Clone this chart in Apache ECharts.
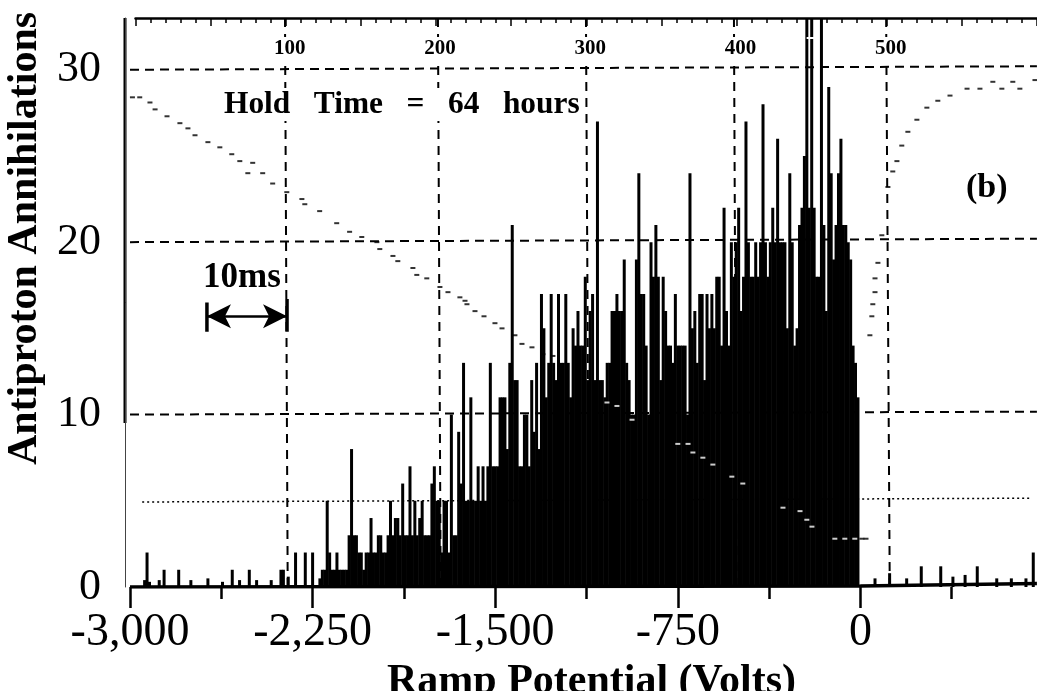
<!DOCTYPE html>
<html><head><meta charset="utf-8">
<style>html,body{margin:0;padding:0;background:#fff}#c{width:1037px;height:691px}</style>
<script src="https://cdn.jsdelivr.net/npm/echarts@6/dist/echarts.min.js"></script>
</head><body><div id="c"></div>
<script>
// counts per 10 V bin, starting at -3000 V
const counts = [
0,0,0,0,0,0,0.4,2,0.3,0,
0,0,0.4,0,1,0,0,0,0,0,
1,0,0,0,0,0.4,0,0,0,0,
0,0,0.5,0,0,0,0,0,0.3,0,
0,0,1,0,0,0.4,0,0,0,1,
0,0,0.4,0,0,0,0,0,0.4,0,
0,0,1,1,0,0.6,0,0,2,0,
0,0,2,0,0,2,0,0,0.5,1,
1,5,2,1,1,2,1,1,1,1,
3,8,3,3,2,2,1,2,2,4,
2,2,3,3,2,2,3,5,3,4,
4,3,6,3,3,7,3,5,3,4,
5,3,3,3,6,7,5,5,2,5,
5,2,10,3,3,9,6,13,5,5,
11,5,5,7,5,7,5,7,13,7,
7,7,11,11,11,8,13,21,12,12,
7,7,10,10,7,12,9,13,8,17,
15,11,13,17,13,12,17,13,13,17,
13,11,15,14,16,14,14,18,12,16,
17,12,27,12,12,11,13,13,16,16,
17,16,16,19,13,12,10,10,19,24,
17,17,14,10,20,18,21,18,12,18,
16,14,14,13,17,14,14,14,14,10,
24,15,16,13,17,17,12,17,15,17,
15,18,18,14,22,16,14,20,18,20,
22,16,18,27,20,18,18,20,18,20,
28,20,18,20,22,20,26,20,20,20,
15,24,20,14,15,21,22,25,33,22,
33,22,18,18,33,21,16,29,24,19,
21,24,26,21,21,20,19,14,13,11
];
// counts per 10 V bin above 0 V
const countsAboveZero = [
0,0,0,0,0,0,0.5,0,0,0,0,0,0.8,0,0,0,0,0,0,0.5,
0,0,0,0,0,1.2,0,0,0,0,0,0,0,1.2,0,0,0,0,0.6,0,
0,0,0,0.7,0,0,0,0,1.2,0,0,0,0,0,0,0,0.5,0,0,0,
0,0,0.5,0,0,0,0,0,0.5,0,0,2
];
const binStart = -3000, binStep = 10;
// ramp trace [volts, count-scale]
const rampFalling = [[-2990,28.4],[-2960,28.4],[-2918,28.1],[-2897,27.7],[-2848,27.3],[-2795,26.9],[-2762,26.6],[-2733,26.2],[-2680,25.8],[-2631,25.5],[-2582,25.1],[-2549,24.7],[-2496,24.6],[-2516,24.0],[-2455,24.0],[-2414,23.4],[-2356,22.9],[-2294,22.5],[-2282,22.2],[-2221,21.8],[-2151,21.1],[-2098,20.6],[-2048,20.3],[-1986,20.0],[-1974,19.6],[-1920,19.2],[-1900,18.9],[-1838,18.5],[-1822,18.1],[-1781,17.9],[-1727,17.4],[-1694,17.1],[-1645,16.8],[-1624,16.6],[-1616,16.4],[-1583,16.0],[-1546,15.7],[-1501,15.3],[-1472,15.0],[-1419,14.6],[-1390,14.1],[-1349,13.9],[-1304,13.5],[-1263,13.4],[6,2.8],[23,2.8]];
const rampHidden = [[-1041,10.7],[-1000,10.5],[-938,9.7],[-750,8.3],[-708,8.3],[-688,7.8],[-647,7.5],[-606,7.1],[-528,6.4],[-483,6.0],[-318,4.6],[-248,4.4],[-220,3.9],[-199,3.5],[-105,2.8],[-64,2.8],[-23,2.8]];
const rampRising = [[39,14.6],[47,15.7],[51,16.4],[60,17.1],[60,17.9],[72,18.8],[88,20.4],[113,23.2],[133,24.1],[150,24.7],[170,25.6],[195,26.4],[232,27.1],[273,27.8],[318,28.2],[368,28.5],[438,28.9],[491,28.9],[581,28.9],[655,28.9],[544,29.3],[626,29.3],[717,29.4]];
// reference lines
const hLines = [[30,30.2],[20,20.2],[10,10.17]];
const hDotted = [[-2950,4.93],[696,5.15]];
const timeLabels = [100,200,300,400,500];
const vLinesTop = [99.5,201.3,299.8,398.3,499.6];
const vLinesBottom = [101.3,203.1,301.9,400,502];
const baseLine = [[-3000,0],[0,0.06],[725,0.2]];
const arrowEnds = [[-2684,15.7],[-2355,15.7]];
const arrowStop = [[-2684,16.5],[-2684,14.8]];
const arrowStop2 = [[-2355,16.7],[-2355,14.8]];
const xTicks = {min:-3000,max:750,step:750,lineEnd:725};

const barData = counts.concat(countsAboveZero).map((c,i)=>[binStart+binStep*i,c]);
const serif = '"Liberation Serif"';
const lineCommon = {type:'line',symbol:'none',silent:true,animation:false};
const series = [];
hLines.forEach(h=>series.push({...lineCommon,z:1,data:[[xTicks.min,h[0]],[xTicks.lineEnd,h[1]]],lineStyle:{color:'#000',width:2,type:[9,6]}}));
series.push({...lineCommon,z:1,data:hDotted,lineStyle:{color:'#000',width:1.5,type:[2,3]}});
timeLabels.forEach((t,i)=>series.push({...lineCommon,z:1,xAxisIndex:1,yAxisIndex:1,data:[[vLinesTop[i],33],[vLinesBottom[i],0]],lineStyle:{color:'#000',width:2,type:[9,7]}}));
series.push({type:'bar',data:barData,barWidth:3,z:3,silent:true,animation:false,itemStyle:{color:'#000'}});
series.push({...lineCommon,z:4,data:baseLine,lineStyle:{color:'#000',width:3.5}});
series.push({type:'scatter',z:5,silent:true,animation:false,data:rampFalling.concat(rampRising),symbol:'rect',symbolSize:[5,2],itemStyle:{color:'#000'}});
series.push({type:'scatter',z:5,silent:true,animation:false,data:rampHidden,symbol:'rect',symbolSize:[5,2],itemStyle:{color:'#fff'}});
series.push({...lineCommon,z:6,data:arrowEnds,lineStyle:{opacity:0},markLine:{silent:true,animation:false,symbol:['arrow','arrow'],symbolSize:[18,24],label:{show:false},lineStyle:{color:'#000',width:2.5,type:'solid'},data:[[{coord:arrowEnds[0]},{coord:arrowEnds[1]}]]}});
series.push({...lineCommon,z:6,data:arrowStop,lineStyle:{color:'#000',width:3.5}});
series.push({...lineCommon,z:6,data:arrowStop2,lineStyle:{color:'#000',width:3.5}});

const chart = echarts.init(document.getElementById('c'),null,{renderer:'canvas'});
chart.setOption({
  animation:false,
  backgroundColor:'#fff',
  grid:[{left:130,right:-6,top:18,bottom:104,outerBoundsMode:'none'},{left:135.5,right:0,top:18,bottom:104,outerBoundsMode:'none'}],
  xAxis:[
    {type:'value',gridIndex:0,min:xTicks.min,max:xTicks.max,interval:xTicks.step,
     axisLine:{show:false,onZero:false},axisTick:{length:21,lineStyle:{color:'#000',width:2.5}},
     minorTick:{show:true,splitNumber:2,length:12,lineStyle:{color:'#000',width:2.5}},
     splitLine:{show:false},
     axisLabel:{color:'#000',fontFamily:serif,fontSize:46,margin:23,hideOverlap:false,showMaxLabel:false},
     name:'Ramp Potential (Volts)',nameLocation:'middle',nameGap:52,
     nameTextStyle:{color:'#000',fontFamily:serif,fontSize:42,fontWeight:'bold',padding:[0,0,0,10]}},
    {type:'value',gridIndex:1,position:'top',min:0,max:600,interval:50,z:5,
     axisLine:{show:true,onZero:false,lineStyle:{color:'#000',width:2.5}},
     axisTick:{show:true,inside:true,length:8,lineStyle:{color:'#000',width:1.5}},
     minorTick:{show:true,splitNumber:5,length:5,lineStyle:{color:'#000',width:1.5}},
     splitLine:{show:false},
     axisLabel:{inside:true,margin:19,color:'#000',fontFamily:serif,fontSize:21,fontWeight:'bold',backgroundColor:'#fff',padding:[1,1,1,9],
       formatter:v=>timeLabels.includes(v)?String(v):''}}
  ],
  yAxis:[
    {type:'value',gridIndex:0,min:0,max:33,interval:10,offset:5,
     axisLine:{show:true,onZero:false,lineStyle:{color:'#444',width:1}},axisTick:{show:false},splitLine:{show:false},
     axisLabel:{color:'#000',fontFamily:serif,fontSize:44,margin:24,showMaxLabel:false,formatter:v=>v%10===0?String(v):''},
     name:'Antiproton Annihilations',nameLocation:'middle',nameGap:72,
     nameTextStyle:{color:'#000',fontFamily:serif,fontSize:42,fontWeight:'bold',padding:[0,0,0,128]}},
    {type:'value',gridIndex:1,min:0,max:33,show:false}
  ],
  graphic:[
    {type:'line',silent:true,shape:{x1:125,y1:18,x2:125,y2:423},style:{stroke:'#000',lineWidth:3}},
    {type:'text',silent:true,z:10,x:222,y:88,style:{text:'Hold   Time   =   64   hours',font:'bold 31.4px "Liberation Serif"',fill:'#000',backgroundColor:'#fff',padding:[1,2,1,2]}},
    {type:'text',silent:true,z:10,x:203,y:260,style:{text:'10ms',font:'bold 35px "Liberation Serif"',fill:'#000'}},
    {type:'text',silent:true,z:10,x:966,y:171,style:{text:'(b)',font:'bold 34px "Liberation Serif"',fill:'#000'}}
  ],
  series
});
</script></body></html>
